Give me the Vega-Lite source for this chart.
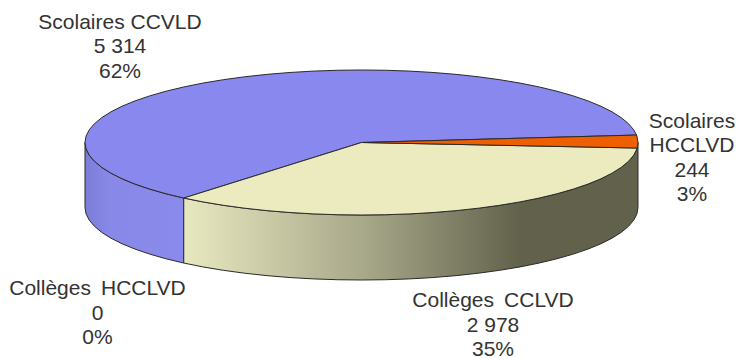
{
  "$schema": "https://vega.github.io/schema/vega-lite/v6.json",
  "width": 738,
  "height": 358,
  "autosize": {"type": "none"},
  "padding": 0,
  "background": "#ffffff",
  "config": {"view": {"stroke": null}},
  "datasets": {
    "wall": [
      {"slice": "Scolaires CCVLD", "u": -1, "v": 0, "v2": -0.8966},
      {"slice": "Scolaires CCVLD", "u": -0.9962, "v": -0.0872, "v2": -0.9838},
      {"slice": "Scolaires CCVLD", "u": -0.9848, "v": -0.1736, "v2": -1.0702},
      {"slice": "Scolaires CCVLD", "u": -0.9659, "v": -0.2588, "v2": -1.1554},
      {"slice": "Scolaires CCVLD", "u": -0.9397, "v": -0.342, "v2": -1.2386},
      {"slice": "Scolaires CCVLD", "u": -0.9063, "v": -0.4226, "v2": -1.3192},
      {"slice": "Scolaires CCVLD", "u": -0.866, "v": -0.5, "v2": -1.3966},
      {"slice": "Scolaires CCVLD", "u": -0.8192, "v": -0.5736, "v2": -1.4702},
      {"slice": "Scolaires CCVLD", "u": -0.766, "v": -0.6428, "v2": -1.5394},
      {"slice": "Scolaires CCVLD", "u": -0.7071, "v": -0.7071, "v2": -1.6037},
      {"slice": "Scolaires CCVLD", "u": -0.6428, "v": -0.766, "v2": -1.6626},
      {"slice": "Collèges CCLVD", "u": -0.6428, "v": -0.766, "v2": -1.6626},
      {"slice": "Collèges CCLVD", "u": -0.5736, "v": -0.8192, "v2": -1.7158},
      {"slice": "Collèges CCLVD", "u": -0.5, "v": -0.866, "v2": -1.7626},
      {"slice": "Collèges CCLVD", "u": -0.4226, "v": -0.9063, "v2": -1.8029},
      {"slice": "Collèges CCLVD", "u": -0.342, "v": -0.9397, "v2": -1.8363},
      {"slice": "Collèges CCLVD", "u": -0.2588, "v": -0.9659, "v2": -1.8625},
      {"slice": "Collèges CCLVD", "u": -0.1736, "v": -0.9848, "v2": -1.8814},
      {"slice": "Collèges CCLVD", "u": -0.0872, "v": -0.9962, "v2": -1.8928},
      {"slice": "Collèges CCLVD", "u": 0, "v": -1, "v2": -1.8966},
      {"slice": "Collèges CCLVD", "u": 0.0872, "v": -0.9962, "v2": -1.8928},
      {"slice": "Collèges CCLVD", "u": 0.1736, "v": -0.9848, "v2": -1.8814},
      {"slice": "Collèges CCLVD", "u": 0.2588, "v": -0.9659, "v2": -1.8625},
      {"slice": "Collèges CCLVD", "u": 0.342, "v": -0.9397, "v2": -1.8363},
      {"slice": "Collèges CCLVD", "u": 0.4226, "v": -0.9063, "v2": -1.8029},
      {"slice": "Collèges CCLVD", "u": 0.5, "v": -0.866, "v2": -1.7626},
      {"slice": "Collèges CCLVD", "u": 0.5736, "v": -0.8192, "v2": -1.7158},
      {"slice": "Collèges CCLVD", "u": 0.6428, "v": -0.766, "v2": -1.6626},
      {"slice": "Collèges CCLVD", "u": 0.7071, "v": -0.7071, "v2": -1.6037},
      {"slice": "Collèges CCLVD", "u": 0.766, "v": -0.6428, "v2": -1.5394},
      {"slice": "Collèges CCLVD", "u": 0.8192, "v": -0.5736, "v2": -1.4702},
      {"slice": "Collèges CCLVD", "u": 0.866, "v": -0.5, "v2": -1.3966},
      {"slice": "Collèges CCLVD", "u": 0.9063, "v": -0.4226, "v2": -1.3192},
      {"slice": "Collèges CCLVD", "u": 0.9397, "v": -0.342, "v2": -1.2386},
      {"slice": "Collèges CCLVD", "u": 0.9659, "v": -0.2588, "v2": -1.1554},
      {"slice": "Collèges CCLVD", "u": 0.9848, "v": -0.1736, "v2": -1.0702},
      {"slice": "Collèges CCLVD", "u": 0.9962, "v": -0.0872, "v2": -0.9838},
      {"slice": "Collèges CCLVD", "u": 1, "v": 0, "v2": -0.8966}
    ],
    "top": [
      {"slice": "Scolaires CCVLD", "i": 0, "u": 0, "v": 0},
      {"slice": "Scolaires CCVLD", "i": 1, "u": 0.9947, "v": 0.1028},
      {"slice": "Scolaires CCVLD", "i": 2, "u": 0.9848, "v": 0.1736},
      {"slice": "Scolaires CCVLD", "i": 3, "u": 0.9659, "v": 0.2588},
      {"slice": "Scolaires CCVLD", "i": 4, "u": 0.9397, "v": 0.342},
      {"slice": "Scolaires CCVLD", "i": 5, "u": 0.9063, "v": 0.4226},
      {"slice": "Scolaires CCVLD", "i": 6, "u": 0.866, "v": 0.5},
      {"slice": "Scolaires CCVLD", "i": 7, "u": 0.8192, "v": 0.5736},
      {"slice": "Scolaires CCVLD", "i": 8, "u": 0.766, "v": 0.6428},
      {"slice": "Scolaires CCVLD", "i": 9, "u": 0.7071, "v": 0.7071},
      {"slice": "Scolaires CCVLD", "i": 10, "u": 0.6428, "v": 0.766},
      {"slice": "Scolaires CCVLD", "i": 11, "u": 0.5736, "v": 0.8192},
      {"slice": "Scolaires CCVLD", "i": 12, "u": 0.5, "v": 0.866},
      {"slice": "Scolaires CCVLD", "i": 13, "u": 0.4226, "v": 0.9063},
      {"slice": "Scolaires CCVLD", "i": 14, "u": 0.342, "v": 0.9397},
      {"slice": "Scolaires CCVLD", "i": 15, "u": 0.2588, "v": 0.9659},
      {"slice": "Scolaires CCVLD", "i": 16, "u": 0.1736, "v": 0.9848},
      {"slice": "Scolaires CCVLD", "i": 17, "u": 0.0872, "v": 0.9962},
      {"slice": "Scolaires CCVLD", "i": 18, "u": 0, "v": 1},
      {"slice": "Scolaires CCVLD", "i": 19, "u": -0.0872, "v": 0.9962},
      {"slice": "Scolaires CCVLD", "i": 20, "u": -0.1736, "v": 0.9848},
      {"slice": "Scolaires CCVLD", "i": 21, "u": -0.2588, "v": 0.9659},
      {"slice": "Scolaires CCVLD", "i": 22, "u": -0.342, "v": 0.9397},
      {"slice": "Scolaires CCVLD", "i": 23, "u": -0.4226, "v": 0.9063},
      {"slice": "Scolaires CCVLD", "i": 24, "u": -0.5, "v": 0.866},
      {"slice": "Scolaires CCVLD", "i": 25, "u": -0.5736, "v": 0.8192},
      {"slice": "Scolaires CCVLD", "i": 26, "u": -0.6428, "v": 0.766},
      {"slice": "Scolaires CCVLD", "i": 27, "u": -0.7071, "v": 0.7071},
      {"slice": "Scolaires CCVLD", "i": 28, "u": -0.766, "v": 0.6428},
      {"slice": "Scolaires CCVLD", "i": 29, "u": -0.8192, "v": 0.5736},
      {"slice": "Scolaires CCVLD", "i": 30, "u": -0.866, "v": 0.5},
      {"slice": "Scolaires CCVLD", "i": 31, "u": -0.9063, "v": 0.4226},
      {"slice": "Scolaires CCVLD", "i": 32, "u": -0.9397, "v": 0.342},
      {"slice": "Scolaires CCVLD", "i": 33, "u": -0.9659, "v": 0.2588},
      {"slice": "Scolaires CCVLD", "i": 34, "u": -0.9848, "v": 0.1736},
      {"slice": "Scolaires CCVLD", "i": 35, "u": -0.9962, "v": 0.0872},
      {"slice": "Scolaires CCVLD", "i": 36, "u": -1, "v": 0},
      {"slice": "Scolaires CCVLD", "i": 37, "u": -0.9962, "v": -0.0872},
      {"slice": "Scolaires CCVLD", "i": 38, "u": -0.9848, "v": -0.1736},
      {"slice": "Scolaires CCVLD", "i": 39, "u": -0.9659, "v": -0.2588},
      {"slice": "Scolaires CCVLD", "i": 40, "u": -0.9397, "v": -0.342},
      {"slice": "Scolaires CCVLD", "i": 41, "u": -0.9063, "v": -0.4226},
      {"slice": "Scolaires CCVLD", "i": 42, "u": -0.866, "v": -0.5},
      {"slice": "Scolaires CCVLD", "i": 43, "u": -0.8192, "v": -0.5736},
      {"slice": "Scolaires CCVLD", "i": 44, "u": -0.766, "v": -0.6428},
      {"slice": "Scolaires CCVLD", "i": 45, "u": -0.7071, "v": -0.7071},
      {"slice": "Scolaires CCVLD", "i": 46, "u": -0.6428, "v": -0.766},
      {"slice": "Scolaires CCVLD", "i": 47, "u": 0, "v": 0},
      {"slice": "Collèges CCLVD", "i": 0, "u": 0, "v": 0},
      {"slice": "Collèges CCLVD", "i": 1, "u": -0.6428, "v": -0.766},
      {"slice": "Collèges CCLVD", "i": 2, "u": -0.5736, "v": -0.8192},
      {"slice": "Collèges CCLVD", "i": 3, "u": -0.5, "v": -0.866},
      {"slice": "Collèges CCLVD", "i": 4, "u": -0.4226, "v": -0.9063},
      {"slice": "Collèges CCLVD", "i": 5, "u": -0.342, "v": -0.9397},
      {"slice": "Collèges CCLVD", "i": 6, "u": -0.2588, "v": -0.9659},
      {"slice": "Collèges CCLVD", "i": 7, "u": -0.1736, "v": -0.9848},
      {"slice": "Collèges CCLVD", "i": 8, "u": -0.0872, "v": -0.9962},
      {"slice": "Collèges CCLVD", "i": 9, "u": 0, "v": -1},
      {"slice": "Collèges CCLVD", "i": 10, "u": 0.0872, "v": -0.9962},
      {"slice": "Collèges CCLVD", "i": 11, "u": 0.1736, "v": -0.9848},
      {"slice": "Collèges CCLVD", "i": 12, "u": 0.2588, "v": -0.9659},
      {"slice": "Collèges CCLVD", "i": 13, "u": 0.342, "v": -0.9397},
      {"slice": "Collèges CCLVD", "i": 14, "u": 0.4226, "v": -0.9063},
      {"slice": "Collèges CCLVD", "i": 15, "u": 0.5, "v": -0.866},
      {"slice": "Collèges CCLVD", "i": 16, "u": 0.5736, "v": -0.8192},
      {"slice": "Collèges CCLVD", "i": 17, "u": 0.6428, "v": -0.766},
      {"slice": "Collèges CCLVD", "i": 18, "u": 0.7071, "v": -0.7071},
      {"slice": "Collèges CCLVD", "i": 19, "u": 0.766, "v": -0.6428},
      {"slice": "Collèges CCLVD", "i": 20, "u": 0.8192, "v": -0.5736},
      {"slice": "Collèges CCLVD", "i": 21, "u": 0.866, "v": -0.5},
      {"slice": "Collèges CCLVD", "i": 22, "u": 0.9063, "v": -0.4226},
      {"slice": "Collèges CCLVD", "i": 23, "u": 0.9397, "v": -0.342},
      {"slice": "Collèges CCLVD", "i": 24, "u": 0.9659, "v": -0.2588},
      {"slice": "Collèges CCLVD", "i": 25, "u": 0.9848, "v": -0.1736},
      {"slice": "Collèges CCLVD", "i": 26, "u": 0.9962, "v": -0.0872},
      {"slice": "Collèges CCLVD", "i": 27, "u": 0.9973, "v": -0.0767},
      {"slice": "Collèges CCLVD", "i": 28, "u": 0, "v": 0},
      {"slice": "Scolaires HCCLVD", "i": 0, "u": 0, "v": 0},
      {"slice": "Scolaires HCCLVD", "i": 1, "u": 0.9973, "v": -0.0767},
      {"slice": "Scolaires HCCLVD", "i": 2, "u": 1, "v": 0},
      {"slice": "Scolaires HCCLVD", "i": 3, "u": 0.9962, "v": 0.0872},
      {"slice": "Scolaires HCCLVD", "i": 4, "u": 0.9947, "v": 0.1028},
      {"slice": "Scolaires HCCLVD", "i": 5, "u": 0, "v": 0}
    ],
    "labels": [
      {"slice": "Scolaires CCVLD", "value": 5314, "share": "62%", "label": "Scolaires CCVLD\n5 314\n62%", "u": -0.8734, "v": 1.6483},
      {"slice": "Scolaires HCCLVD", "value": 244, "share": "3%", "label": "Scolaires\nHCCLVD\n244\n3%", "u": 1.1953, "v": 0.2828},
      {"slice": "Collèges CCLVD", "value": 2978, "share": "35%", "label": "Collèges \u2009CCLVD\n2 978\n35%", "u": 0.4756, "v": -2.1862},
      {"slice": "Collèges HCCLVD", "value": 0, "share": "0%", "label": "Collèges \u2009HCCLVD\n0\n0%", "u": -0.9548, "v": -2.0207}
    ]
  },
  "encoding": {
    "x": {"field": "u", "type": "quantitative", "axis": null, "scale": {"domain": [-1.3074, 1.3617], "nice": false, "zero": false}},
    "y": {"field": "v", "type": "quantitative", "axis": null, "scale": {"domain": [-2.9724, 1.9655], "nice": false, "zero": false}}
  },
  "layer": [
    {
      "data": {"name": "wall"},
      "transform": [{"filter": "datum.slice === 'Scolaires CCVLD'"}],
      "mark": {
        "type": "area",
        "stroke": "#2a2a2a",
        "strokeWidth": 1,
        "fill": {
          "gradient": "linear", "x1": 0, "y1": 0, "x2": 1, "y2": 0,
          "stops": [
            {"offset": 0, "color": "#7c7cd8"},
            {"offset": 0.25, "color": "#8888e8"},
            {"offset": 1, "color": "#8a8aec"}
          ]
        }
      },
      "encoding": {"y2": {"field": "v2"}}
    },
    {
      "data": {"name": "wall"},
      "transform": [{"filter": "datum.slice === 'Collèges CCLVD'"}],
      "mark": {
        "type": "area",
        "stroke": "#2a2a2a",
        "strokeWidth": 1,
        "fill": {
          "gradient": "linear", "x1": 0, "y1": 0, "x2": 1, "y2": 0,
          "stops": [
            {"offset": 0, "color": "#e8e8c0"},
            {"offset": 0.39, "color": "#a9a98b"},
            {"offset": 0.74, "color": "#62624c"},
            {"offset": 1, "color": "#62624c"}
          ]
        }
      },
      "encoding": {"y2": {"field": "v2"}}
    },
    {
      "data": {"name": "top"},
      "mark": {"type": "line", "filled": true, "stroke": "#2a2a2a", "strokeWidth": 1, "strokeJoin": "round"},
      "encoding": {
        "order": {"field": "i", "type": "quantitative"},
        "fill": {
          "field": "slice", "type": "nominal", "legend": null,
          "scale": {
            "domain": ["Scolaires CCVLD", "Collèges CCLVD", "Scolaires HCCLVD"],
            "range": ["#8888ee", "#ecebbf", "#ee5f00"]
          }
        }
      }
    },
    {
      "data": {"name": "labels"},
      "mark": {"type": "text", "font": "Liberation Sans", "fontSize": 21, "lineHeight": 24.5, "lineBreak": "\n", "align": "center", "baseline": "middle", "fill": "#333333"},
      "encoding": {"text": {"field": "label", "type": "nominal"}}
    }
  ]
}
